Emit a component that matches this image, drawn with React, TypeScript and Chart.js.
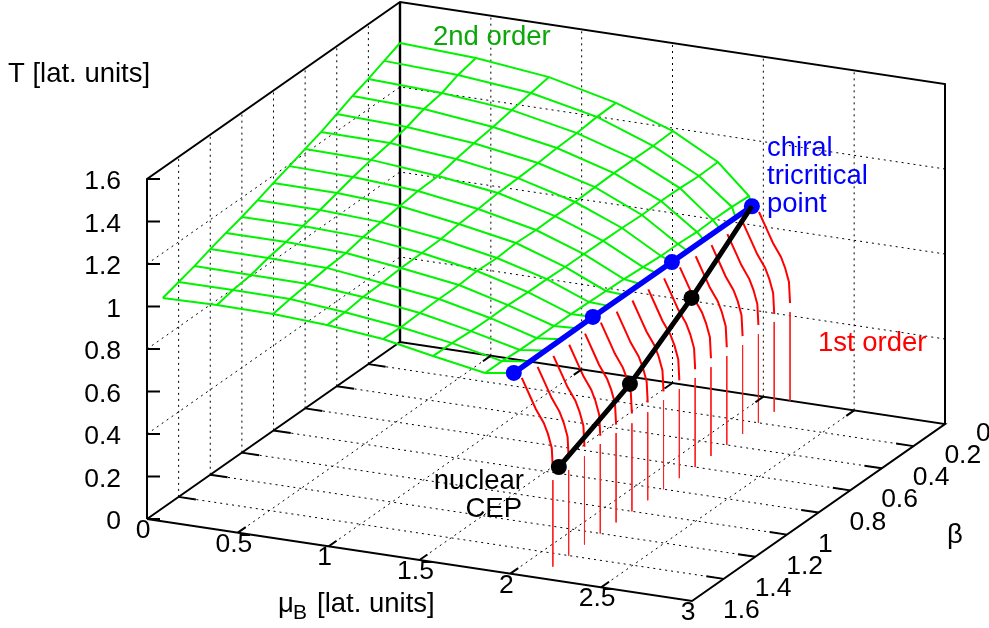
import React, { useEffect, useRef } from "react";
import { Chart, registerables } from "chart.js";

Chart.register(...registerables);

// ---------- data (mu_B, beta, T) ----------
const muTicks = [0, 0.5, 1, 1.5, 2, 2.5, 3];
const muTickLabels = ["0", "0.5", "1", "1.5", "2", "2.5", "3"];
const betaTicks = [0, 0.2, 0.4, 0.6, 0.8, 1, 1.2, 1.4, 1.6];
const betaTickLabels = ["0", "0.2", "0.4", "0.6", "0.8", "1", "1.2", "1.4", "1.6"];
const tTicks = [0, 0.2, 0.4, 0.6, 0.8, 1, 1.2, 1.4, 1.6];
const tTickLabels = ["0", "0.2", "0.4", "0.6", "0.8", "1", "1.2", "1.4", "1.6"];
const tGrid = [0.4, 0.8, 1.2];

const betaRows = [0, 0.1, 0.2, 0.3, 0.4, 0.5, 0.6, 0.7, 0.8, 0.9, 1, 1.1, 1.2, 1.3, 1.4, 1.5];

// second-order surface: one mu list and one T list per mesh line, indexed by betaRows
const meshMu0 = [0, 0, 0, 0, 0, 0, 0, 0, 0, 0, 0, 0, 0, 0, 0, 0];
const meshT0 = [1.407, 1.375, 1.342, 1.314, 1.281, 1.248, 1.221, 1.192, 1.165, 1.136, 1.109, 1.086, 1.062, 1.034, 1.011, 0.988];
const meshMu1 = [0.418, 0.406, 0.405, 0.393, 0.386, 0.38, 0.363, 0.351, 0.35, 0.343, 0.336, 0.33, 0.318, 0.311, 0.299, 0.298];
const meshT1 = [1.39, 1.361, 1.328, 1.303, 1.27, 1.246, 1.216, 1.186, 1.163, 1.134, 1.11, 1.086, 1.061, 1.032, 1.012, 0.993];
const meshMu2 = [0.82, 0.808, 0.79, 0.773, 0.755, 0.744, 0.732, 0.708, 0.696, 0.679, 0.667, 0.66, 0.642, 0.625, 0.613, 0.607];
const meshT2 = [1.352, 1.328, 1.297, 1.267, 1.241, 1.217, 1.188, 1.166, 1.146, 1.12, 1.1, 1.076, 1.056, 1.03, 1.01, 0.991];
const meshMu3 = [1.189, 1.171, 1.148, 1.125, 1.108, 1.085, 1.062, 1.039, 1.021, 1.009, 0.991, 0.963, 0.945, 0.928, 0.916, 0.904];
const meshT3 = [1.278, 1.262, 1.235, 1.214, 1.193, 1.171, 1.15, 1.124, 1.103, 1.083, 1.067, 1.045, 1.024, 1.008, 0.987, 0.977];
const meshMu4 = [1.503, 1.48, 1.462, 1.439, 1.421, 1.399, 1.376, 1.358, 1.335, 1.317, 1.294, 1.282, 1.259, 1.241, 1.224, 1.212];
const meshT4 = [1.186, 1.165, 1.153, 1.136, 1.12, 1.099, 1.082, 1.066, 1.054, 1.033, 1.021, 1.006, 0.989, 0.973, 0.956, 0.951];
const meshMu5 = [1.75, 1.733, 1.715, 1.698, 1.68, 1.657, 1.64, 1.622, 1.605, 1.592, 1.575, 1.552, 1.54, 1.522, 1.505, 1.487];
const meshT5 = [1.072, 1.056, 1.049, 1.038, 1.022, 1.01, 0.999, 0.987, 0.976, 0.969, 0.958, 0.946, 0.936, 0.924, 0.917, 0.906];
const meshMu6 = [1.921, 1.914, 1.897, 1.896, 1.878, 1.872, 1.86, 1.842, 1.83, 1.824, 1.812, 1.805, 1.798, 1.792, 1.78, 1.774];
const meshT6 = [0.934, 0.934, 0.922, 0.918, 0.911, 0.906, 0.904, 0.897, 0.892, 0.891, 0.885, 0.88, 0.874, 0.87, 0.868, 0.863];
const meshMu7 = [1.937, 1.935, 1.934, 1.933, 1.932, 1.932, 1.932, 1.932, 1.932, 1.932, 1.932, 1.932, 1.932, 1.932, 1.932, 1.932];
const meshT7 = [0.888, 0.887, 0.886, 0.886, 0.885, 0.885, 0.886, 0.886, 0.886, 0.887, 0.887, 0.886, 0.886, 0.885, 0.885, 0.884];

// chiral tricritical line
const chiralBeta = [0, 0.5, 1, 1.5];
const chiralMu = [1.937, 1.932, 1.932, 1.932];
const chiralT = [0.888, 0.885, 0.887, 0.884];

// nuclear critical end point line
const cepBeta = [0, 0.5, 1, 1.5];
const cepMu = [1.937, 2.04, 2.136, 2.18];
const cepT = [0.888, 0.73, 0.598, 0.473];

// first-order curves, one per betaRows entry
const firstOrderMu = [1.976, 2.026, 2.053, 2.097, 2.12, 2.141, 2.147];
const firstOrderT = [0.866, 0.778, 0.73, 0.67, 0.621, 0.558, 0.46];
const dropTopT = [0.417, 0.422, 0.417, 0.418, 0.418, 0.418, 0.419, 0.419, 0.419, 0.414, 0.414, 0.42, 0.42, 0.416, 0.402, 0.407];

const MU_MAX = 3;
const BETA_MAX = 1.6;
const T_MAX = 1.6;

// ---------- view of the 3D box on the flat scales ----------
const project = (mu: number, beta: number, t: number) => ({
  x: 400 + (545 / 3) * mu - (253 / 1.6) * beta,
  y: 342 + (82 / 3) * mu + (177 / 1.6) * beta - (340 / 1.6) * t,
});

const FONT = "'Liberation Sans', Arial, sans-serif";
const FS = 27.5;
const TICK_FS = 26.5;

const line = (pts: any[], opts: any = {}) => ({
  data: pts,
  showLine: true,
  pointRadius: 0,
  borderColor: "#000",
  borderWidth: 1,
  clip: false,
  ...opts,
});

function buildDatasets() {
  const ds: any[] = [];
  const dotted = { borderColor: "#000", borderWidth: 1, borderDash: [2, 4] };

  // base and wall grid
  for (const m of muTicks.slice(1, -1)) {
    ds.push(line([project(m, 0, 0), project(m, BETA_MAX, 0)], dotted));
    ds.push(line([project(m, 0, 0), project(m, 0, T_MAX)], dotted));
  }
  for (const b of betaTicks.slice(1, -1)) {
    ds.push(line([project(0, b, 0), project(MU_MAX, b, 0)], dotted));
    ds.push(line([project(0, b, 0), project(0, b, T_MAX)], dotted));
  }
  for (const t of tGrid) {
    ds.push(line([project(0, BETA_MAX, t), project(0, 0, t), project(MU_MAX, 0, t)], dotted));
  }

  // border
  const border = { borderWidth: 2, borderColor: "#000" };
  ds.push(line([project(0, BETA_MAX, 0), project(MU_MAX, BETA_MAX, 0), project(MU_MAX, 0, 0), project(0, 0, 0), project(0, BETA_MAX, 0)], border));
  ds.push(line([project(0, BETA_MAX, 0), project(0, BETA_MAX, T_MAX), project(0, 0, T_MAX), project(MU_MAX, 0, T_MAX), project(MU_MAX, 0, 0)], border));
  ds.push(line([project(0, 0, 0), project(0, 0, T_MAX)], { borderWidth: 2.4, borderColor: "#000" }));

  // second-order surface
  const meshMu = [meshMu0, meshMu1, meshMu2, meshMu3, meshMu4, meshMu5, meshMu6, meshMu7];
  const meshT = [meshT0, meshT1, meshT2, meshT3, meshT4, meshT5, meshT6, meshT7];
  const green = { borderColor: "#00f400", borderWidth: 2 };
  meshMu.slice(0, 7).forEach((mus, j) => {
    ds.push(line(mus.map((m, i) => project(m, betaRows[i], meshT[j][i])), green));
  });
  betaRows.forEach((b, i) => {
    ds.push(line(meshMu.map((mus, j) => project(mus[i], b, meshT[j][i])), green));
  });

  // first-order curves and their drops to the base
  betaRows.forEach((b, i) => {
    ds.push(line(firstOrderMu.map((m, k) => project(m, b, firstOrderT[k])), { borderColor: "#ff0000", borderWidth: 2 }));
    const endMu = firstOrderMu[firstOrderMu.length - 1];
    ds.push(line([project(endMu, b, dropTopT[i]), project(endMu, b, 0)], { borderColor: "#ff2020", borderWidth: 1 }));
  });

  // chiral line
  ds.push(
    line(chiralMu.map((m, i) => project(m, chiralBeta[i], chiralT[i])), {
      borderColor: "#0000ff",
      borderWidth: 5.5,
      pointRadius: 8,
      pointBackgroundColor: "#0000ff",
      pointBorderWidth: 0,
    })
  );

  // CEP line
  ds.push(
    line(cepMu.map((m, i) => project(m, cepBeta[i], cepT[i])), {
      borderColor: "#000",
      borderWidth: 5,
      tension: 0.08,
      pointRadius: [0, 8, 8, 8],
      pointBackgroundColor: "#000",
      pointBorderWidth: 0,
    })
  );

  // Chart.js paints the first dataset last
  return ds.reverse();
}

const annotate = {
  id: "annotate",
  afterDatasetsDraw(chart: any) {
    const { ctx, scales } = chart;
    const px = (p: { x: number; y: number }) => ({
      x: scales.x.getPixelForValue(p.x),
      y: scales.y.getPixelForValue(p.y),
    });
    const seg = (a: any, b: any) => {
      ctx.beginPath();
      ctx.moveTo(a.x, a.y);
      ctx.lineTo(b.x, b.y);
      ctx.stroke();
    };
    ctx.save();
    ctx.strokeStyle = "#000";
    ctx.lineWidth = 2;
    // tick marks
    tTicks.forEach((t) => {
      const a = px(project(0, BETA_MAX, t));
      seg(a, { x: a.x + 13, y: a.y });
    });
    betaTicks.slice(1, -1).forEach((b) => {
      seg(px(project(0, b, 0)), px(project(0.095, b, 0)));
      seg(px(project(MU_MAX, b, 0)), px(project(MU_MAX - 0.095, b, 0)));
    });
    muTicks.slice(1, -1).forEach((m) => {
      seg(px(project(m, BETA_MAX, 0)), px(project(m, BETA_MAX - 0.05, 0)));
      seg(px(project(m, 0, 0)), px(project(m, 0.05, 0)));
    });

    const text = (s: string, x: number, y: number, color = "#000", align: CanvasTextAlign = "left", size = FS) => {
      ctx.fillStyle = color;
      ctx.textAlign = align;
      ctx.textBaseline = "alphabetic";
      ctx.font = `${size}px ${FONT}`;
      ctx.fillText(s, x, y);
    };

    // tick labels
    tTicks.forEach((t, i) => {
      const a = px(project(0, BETA_MAX, t));
      text(tTickLabels[i], a.x - 26, a.y + 10, "#000", "right", TICK_FS);
    });
    muTicks.forEach((m, i) => {
      const a = px(project(m, BETA_MAX, 0));
      text(muTickLabels[i], a.x - 4, a.y + 19, "#000", "center", TICK_FS);
    });
    betaTicks.forEach((b, i) => {
      const a = px(project(MU_MAX, b, 0));
      text(betaTickLabels[i], a.x + 31, a.y + 17, "#000", "left", TICK_FS);
    });

    // titles and annotations
    text("T [lat. units]", 8, 82);
    text("\u03bc", 278, 612);
    text("B", 293, 619, "#000", "left", 21);
    text("[lat. units]", 317, 612);
    text("\u03b2", 947, 543);
    text("2nd order", 433, 45, "#0aa80a");
    text("chiral", 767, 156, "#0000ff");
    text("tricritical", 767, 184, "#0000ff");
    text("point", 767, 212, "#0000ff");
    text("1st order", 818, 351, "#ff0000");
    text("nuclear", 524, 489, "#000", "right");
    text("CEP", 522, 517, "#000", "right");
    ctx.restore();
  },
};

export default function App() {
  const ref = useRef<HTMLCanvasElement>(null);
  useEffect(() => {
    const chart = new Chart(ref.current as HTMLCanvasElement, {
      type: "scatter",
      data: { datasets: buildDatasets() },
      options: {
        animation: false,
        responsive: false,
        events: [],
        layout: { padding: 0, autoPadding: false },
        plugins: { legend: { display: false }, tooltip: { enabled: false }, title: { display: false } },
        scales: {
          x: { type: "linear", display: false, min: 0, max: 989 },
          y: { type: "linear", display: false, min: 0, max: 628, reverse: true },
        },
      },
      plugins: [annotate],
    } as any);
    return () => chart.destroy();
  }, []);
  return (
    <div style={{ position: "fixed", left: 0, top: 0, width: 989, height: 628, background: "#fff" }}>
      <canvas ref={ref} width={989} height={628} style={{ display: "block" }} />
    </div>
  );
}
